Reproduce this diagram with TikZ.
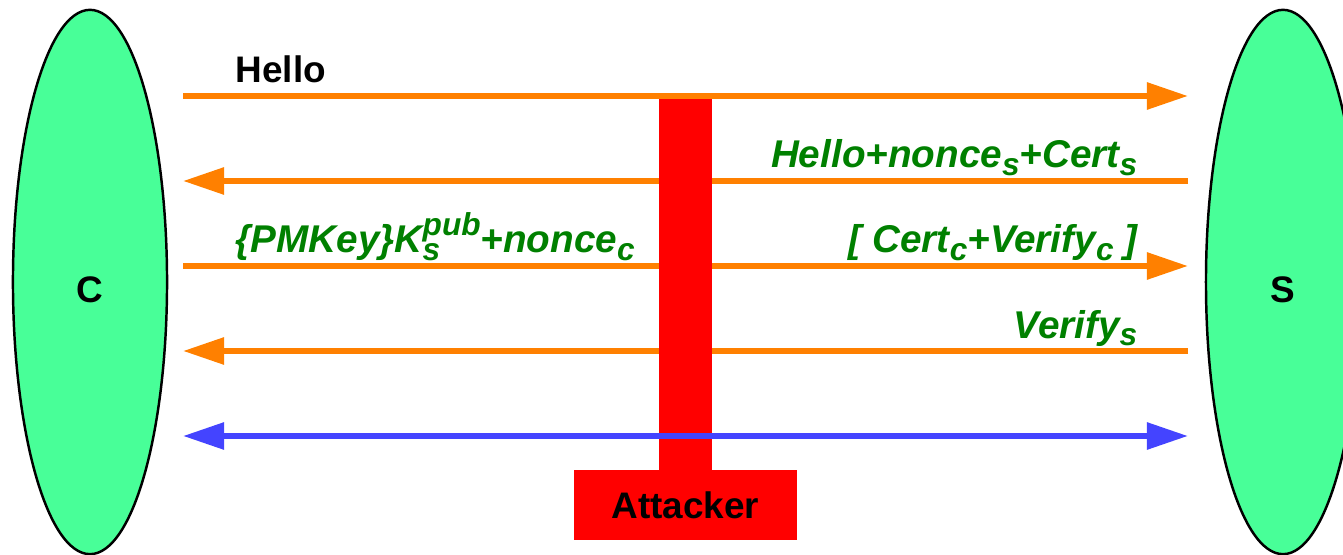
\documentclass[tikz,border=0pt]{standalone}
\usepackage{fontspec}
\setmainfont{Liberation Sans}
\usetikzlibrary{arrows.meta,shapes.geometric}
\definecolor{hostgreen}{RGB}{72,255,152}
\definecolor{msgorange}{RGB}{255,128,0}
\definecolor{msggreen}{RGB}{0,128,0}
\definecolor{chanblue}{RGB}{68,68,255}
\newcommand{\diagfont}{\fontsize{10.5}{12}\selectfont}
\newcommand{\msgfont}{\fontsize{11}{13}\selectfont}
\newcommand{\lowidx}[1]{\raisebox{-2pt}{\fontsize{9}{10}\selectfont #1}}
\newcommand{\highidx}[1]{\raisebox{5pt}{\fontsize{9}{10}\selectfont #1}}
\newcommand{\lowhigh}[2]{\rlap{\lowidx{#1}}\highidx{#2}}

\begin{document}
\begin{tikzpicture}[x=0.01cm,y=-0.01cm,
    >={Triangle[length=11.7pt,width=7.4pt]},
    host/.style={ellipse,draw=black,line width=0.7pt,fill=hostgreen,minimum width=1.54cm,minimum height=5.44cm,inner sep=0pt},
    hostname/.style={font=\diagfont\bfseries,inner sep=0pt},
    msg/.style={line width=1.7pt,draw=msgorange,->},
    msgtext/.style={font=\msgfont\bfseries\itshape,text=msggreen,inner sep=0pt},
    tap/.style={fill=red,minimum width=0.53cm,minimum height=3.76cm,inner sep=0pt},
    attackbox/.style={fill=red,minimum width=2.23cm,minimum height=0.70cm,inner sep=0pt,font=\diagfont\bfseries}]
  \useasboundingbox (0,0) rectangle (1343,555);
  \clip (0,0) rectangle (1343,555);
  % the two ends of the session
  \node[host] (client) at (90,282) {};
  \node[host] (server) at (1283,282) {};
  \node[hostname] (clientname) at ([yshift=-0.08cm]client.center) {C};
  \node[hostname] (servername) at ([yshift=-0.08cm]server.center) {S};
  % end points of the five message rows
  \foreach \i/\y in {1/96,2/181,3/266,4/351,5/436} {
    \coordinate (c\i) at (183,\y);
    \coordinate (s\i) at (1188,\y);
  }
  \draw[msg] (s2) -- (c2);
  \draw[msg] (c3) -- (s3);
  \draw[msg] (s4) -- (c4);
  % man in the middle
  \node[tap,anchor=north] (tap) at (685.5,95) {};
  \node[attackbox] (attacker) at (685.5,505) {Attacker};
  \draw[msg] (c1) -- (s1);
  \draw[msg,draw=chanblue,<->] (c5) -- (s5);
  % message labels
  \node[msgtext,anchor=base west,text=black,font=\diagfont\bfseries] (hellolbl) at (235,83) {Hello};
  \node[msgtext,anchor=base east] (srvhello) at (1138,168) {Hello+nonce\lowidx{s}+Cert\lowidx{s}};
  \node[msgtext,anchor=base west] (keyx) at (235,253) {\{PMKey\}K\lowhigh{s}{pub}+nonce\lowidx{c}};
  \node[msgtext,anchor=base east] (clicert) at (1138,253) {[ Cert\lowidx{c}+Verify\lowidx{c} ]};
  \node[msgtext,anchor=base east] (srvfin) at (1138,338) {Verify\lowidx{s}};
\end{tikzpicture}
\end{document}
